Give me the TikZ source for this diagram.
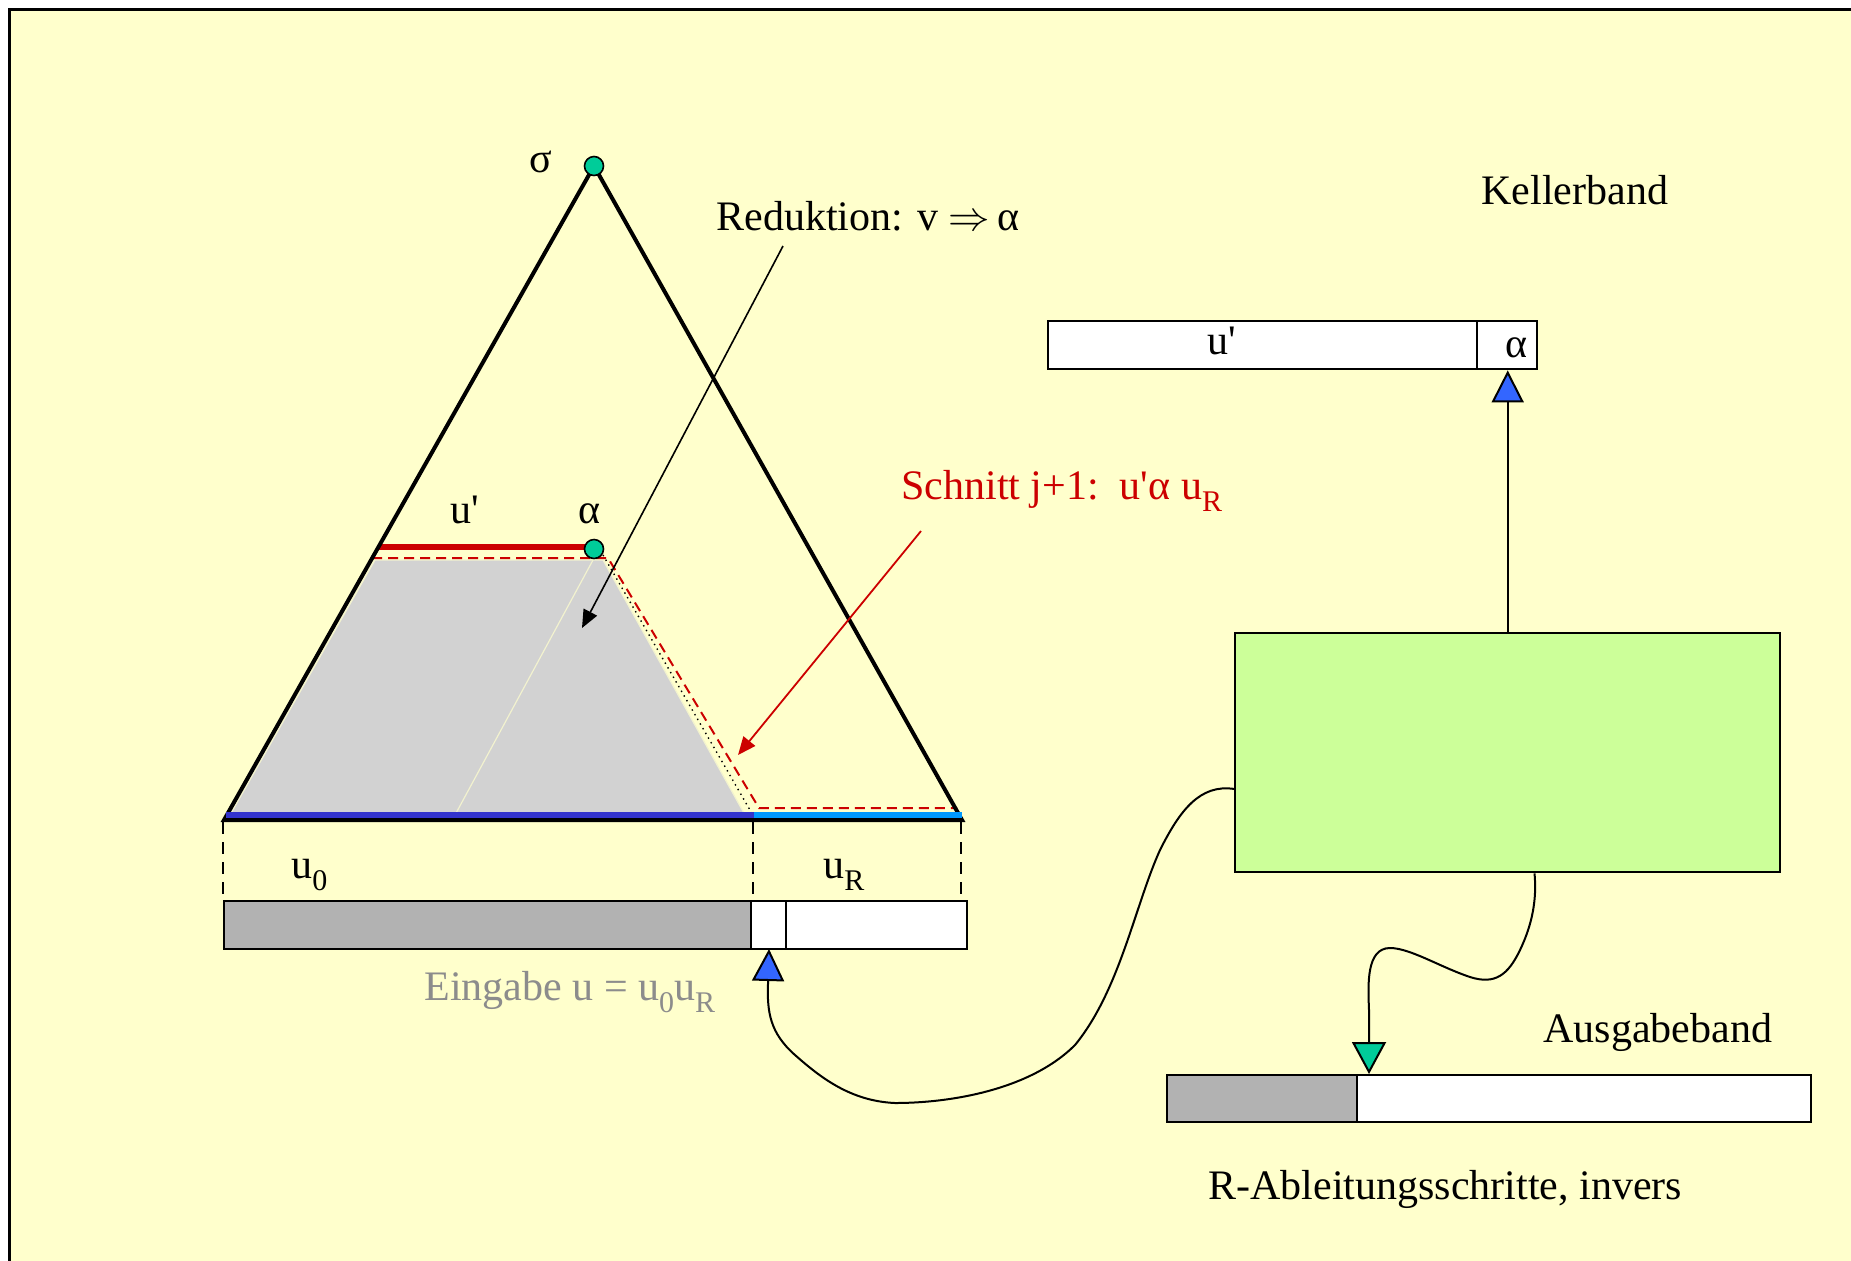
\documentclass[tikz,border=0pt]{standalone}
\usepackage{fontspec}
\setmainfont{Liberation Serif}
\usetikzlibrary{arrows.meta,calc}
\definecolor{bgyellow}{HTML}{FFFFCC}
\definecolor{redc}{HTML}{CC0000}
\definecolor{tapegray}{HTML}{B2B2B2}
\definecolor{trapgray}{HTML}{D2D2D2}
\definecolor{boxgreen}{HTML}{CCFF99}
\definecolor{arrowblue}{HTML}{3366FF}
\definecolor{tealc}{HTML}{00CC99}
\definecolor{darkbar}{HTML}{3333CC}
\definecolor{lightbar}{HTML}{0099FF}
\definecolor{labelgray}{HTML}{8C8C8C}
\definecolor{faintline}{HTML}{F2F2CF}
\newcommand{\apos}{\textquotesingle}
\newcommand{\sbs}[1]{\raisebox{-0.3em}{\fontsize{15}{15}\selectfont #1}}
\tikzset{
  lbl/.style={inner sep=0pt, font=\fontsize{21}{25}\selectfont, anchor=base west},
  tapecell/.style={draw=black, line width=1.2pt, minimum height=24pt, inner sep=0pt, anchor=north west, fill=white},
  dotnode/.style={circle, draw=black, fill=tealc, line width=0.8pt, minimum size=9.5pt, inner sep=0pt},
  wire/.style={draw=black, line width=1pt},
  bluehead/.style={-{Triangle[length=16pt,width=16pt,fill=arrowblue]}},
  tealhead/.style={-{Triangle[length=16pt,width=17pt,fill=tealc]}},
  blackhead/.style={-{Triangle[length=9pt,width=7.5pt]}},
  redhead/.style={-{Triangle[length=9pt,width=7.5pt]}},
  vdash/.style={line width=0.8pt, dash pattern=on 6pt off 4pt},
  reddash/.style={redc, line width=1pt, dash pattern=on 5pt off 3pt}
}
\begin{document}
\begin{tikzpicture}[x=0.5pt,y=-0.5pt]
\useasboundingbox (0,0) rectangle (1851,1260);
\fill[white] (0,0) rectangle (1851,1260);
\begin{scope}
\clip (0,0) rectangle (1851,1260);
\draw[fill=bgyellow, line width=1.5pt] (9,9) rectangle (1880,1290);
\end{scope}

% trapezoid (part of tree already reduced)
\draw[fill=trapgray, draw=faintline, line width=0.6pt] (230,815) -- (375,560) -- (603,560) -- (745,815) -- cycle;
\draw[faintline, line width=0.6pt] (593,560) -- (455,815);
\draw[dotted, line width=0.7pt] (603,555) -- (754,817);
\draw[reddash] (372,558) -- (608,558) -- (759,808) -- (957,808);
\draw[redc, line width=3pt] (378,547) -- (594,547);

% big triangle
\draw[line width=2pt, line join=miter] (224,820) -- (594,166) -- (962,820) -- cycle;
\draw[darkbar, line width=3pt] (226,815) -- (754,815);
\draw[lightbar, line width=3pt] (754,815) -- (962,815);

\node[dotnode] (apex) at (594,166) {};
\node[dotnode] (alphadot) at (594,549) {};

% dashed verticals
\draw[vdash] (223,822) -- (223,900);
\draw[vdash] (753,822) -- (753,900);
\draw[vdash] (961,822) -- (961,900);

% input tape
\node[tapecell, fill=tapegray, minimum width=263.5pt] (inGray) at (223,900) {};
\node[tapecell, minimum width=17.5pt] (inCell) at (750,900) {};
\node[tapecell, minimum width=90.5pt] (inRest) at (785,900) {};

% stack tape
\node[tapecell, minimum width=214.5pt] (stU) at (1047,320) {};
\node[tapecell, minimum width=30pt] (stA) at (1476,320) {};

% output tape
\node[tapecell, fill=tapegray, minimum width=95pt, minimum height=23.5pt] (outGray) at (1166,1074) {};
\node[tapecell, minimum width=227pt, minimum height=23.5pt] (outRest) at (1356,1074) {};

% control box
\node[draw, line width=1.2pt, fill=boxgreen, minimum width=272.5pt, minimum height=119.5pt, anchor=north west, inner sep=0pt] (ctrl) at (1234,632) {};

% labels
\node[lbl] (sigma) at (529,172) {σ};
\node[lbl] (red) at (716,230) {Reduktion: v $\Rightarrow$\,α};
\node[lbl] (uprime) at (450,523) {u\apos};
\node[lbl] (alpha) at (578,523) {α};
\node[lbl, text=redc] (schnitt) at (901,499) {Schnitt j+1:\ \ u\apos α u\sbs{R}};
\node[lbl] (keller) at (1481,204) {Kellerband};
\node[lbl] (stUlbl) at (1207,354) {u\apos};
\node[lbl] (stAlbl) at (1505,357) {α};
\node[lbl] (u0) at (291,878) {u\sbs{0}};
\node[lbl] (uR) at (823,878) {u\sbs{R}};
\node[lbl, text=labelgray] (eingabe) at (424,1000) {Eingabe u = u\sbs{0}u\sbs{R}};
\node[lbl] (ausgabe) at (1543,1042) {Ausgabeband};
\node[lbl] (rabl) at (1208,1199) {R-Ableitungsschritte, invers};

% annotation arrows
\coordinate (redStart) at (783,246);
\coordinate (redTip) at (582,628);
\draw[line width=0.8pt, blackhead] (redStart) -- (redTip);
\coordinate (schStart) at (921,531);
\coordinate (schTip) at (738,755);
\draw[redc, line width=0.9pt, redhead] (schStart) -- (schTip);

% control -> stack
\draw[wire, bluehead] (ctrl.north) -- (ctrl.north |- stA.south);

% control -> input head
\coordinate (inHead) at (769,949);
\draw[wire, bluehead] ($(ctrl.south west)!0.35!(ctrl.north west)$)
  .. controls (1200,784) and (1180,810) .. (1160,850)
  .. controls (1135,905) and (1120,990) .. (1075,1045)
  .. controls (1030,1090) and (950,1103) .. (895,1103)
  .. controls (850,1101) and (820,1077) .. (795,1055)
  .. controls (770,1033) and (767,1012) .. (768,984)
  -- (inHead);

% control -> output head
\coordinate (outHead) at (1369,1074);
\draw[wire, tealhead] ($(ctrl.south west)!0.549!(ctrl.south east)$)
  .. controls (1537,900) and (1532,925) .. (1520,950)
  .. controls (1508,975) and (1495,985) .. (1470,977)
  .. controls (1440,967) and (1410,948) .. (1390,948)
  .. controls (1366,948) and (1368,985) .. (1369,1010)
  -- (outHead);
\end{tikzpicture}
\end{document}
